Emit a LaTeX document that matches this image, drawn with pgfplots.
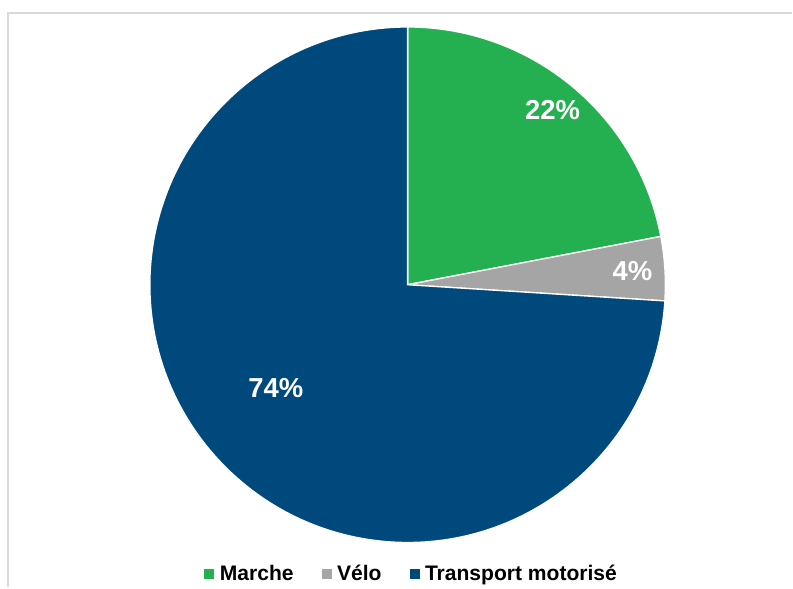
\documentclass[border=0pt]{standalone}
\usepackage{fontspec}
\setmainfont{Liberation Sans}
\usepackage{pgfplots}
\usepackage{pgfplotstable}
\pgfplotsset{compat=1.18}

\definecolor{marche}{HTML}{24B050}
\definecolor{velo}{HTML}{A5A5A5}
\definecolor{transport}{HTML}{00497C}
\definecolor{frame}{HTML}{D9D9D9}

% share of trips, in percent, clockwise from the top
\pgfplotstableread{
part value
Marche 22
Velo 4
Transport 74
}\piedata

\pgfplotstablegetelem{0}{value}\of\piedata \let\va\pgfplotsretval
\pgfplotstablegetelem{1}{value}\of\piedata \let\vb\pgfplotsretval
\pgfplotstablegetelem{2}{value}\of\piedata \let\vc\pgfplotsretval
\pgfmathsetmacro\aA{90-3.6*\va}
\pgfmathsetmacro\aB{\aA-3.6*\vb}
\pgfmathsetmacro\aC{\aB-3.6*\vc}

\begin{document}
\begin{tikzpicture}
\begin{axis}[
  x=0.75pt, y=0.75pt,
  xmin=0, xmax=793, ymin=0, ymax=588,
  hide axis, clip=false,
  legend columns=3,
  legend image code/.code={\fill[#1] (0pt,-3.4pt) rectangle (6.75pt,3.4pt);},
  legend style={at={(axis cs:411,14)}, anchor=center, draw=none, fill=none,
    font=\fontsize{15.8}{18}\selectfont\bfseries, inner sep=0pt,
    nodes={inner sep=0pt},
    /tikz/every odd column/.append style={column sep=4.5pt},
    /tikz/every even column/.append style={column sep=21pt}},
]
\path (axis cs:0,0) rectangle (axis cs:793,588);
\draw[frame, line width=1.1pt] (axis cs:793,575) -- (axis cs:8,575) -- (axis cs:8,0);

\def\R{193.5pt}
\fill[marche, draw=white, line width=1pt] (axis cs:408,303) -- ++(90:\R)
  arc[start angle=90, end angle=\aA, radius=\R] -- cycle;
\fill[velo, draw=white, line width=1pt] (axis cs:408,303) -- ++(\aA:\R)
  arc[start angle=\aA, end angle=\aB, radius=\R] -- cycle;
\fill[transport, draw=white, line width=1pt] (axis cs:408,303) -- ++(\aB:\R)
  arc[start angle=\aB, end angle=\aC, radius=\R] -- cycle;

\addlegendimage{marche}\addlegendentry{Marche}
\addlegendimage{velo}\addlegendentry{Vélo}
\addlegendimage{transport}\addlegendentry{Transport motorisé}

\begin{scope}[every node/.style={text=white, font=\fontsize{20.6}{24}\selectfont\bfseries}]
\node at (axis cs:553,478) {22\%};
\node at (axis cs:633,317) {4\%};
\node at (axis cs:276,200) {74\%};
\end{scope}
\end{axis}
\end{tikzpicture}
\end{document}
